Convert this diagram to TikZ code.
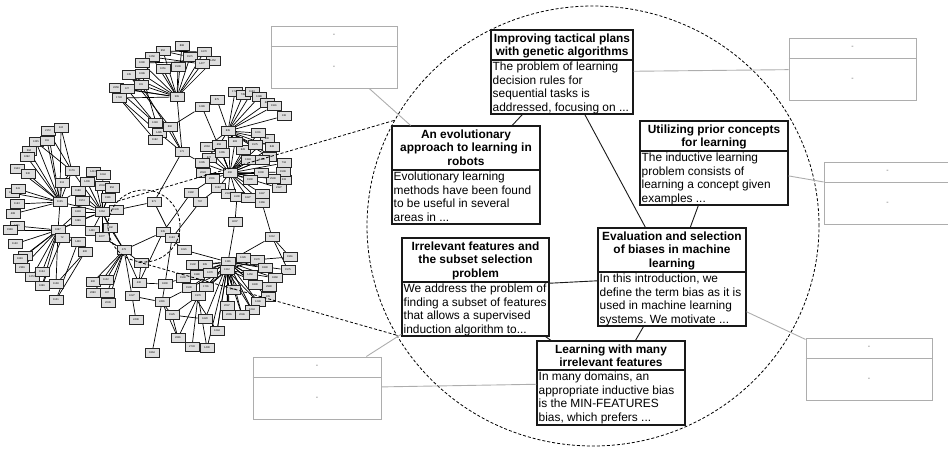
\documentclass[tikz,border=0pt]{standalone}
\usepackage{fontspec}
\setmainfont{Liberation Sans}
\frenchspacing
\usetikzlibrary{shapes.geometric,backgrounds}
\tikzset{
  gn/.style={draw=black!85, fill=black!13, line width=0.9pt, minimum width=14pt, minimum height=8.5pt, inner sep=0pt, font=\fontsize{2.6}{3}\selectfont},
  ge/.style={line width=0.7pt, black},
  paper/.style={draw=black!90, fill=white, line width=1.1pt, inner sep=0pt},
  ghost/.style={draw=black!32, fill=white, line width=1pt, inner sep=0pt},
  papersep/.style={draw=black!90, line width=1.1pt},
  ghostsep/.style={draw=black!32, line width=1pt},
  tlink/.style={line width=0.9pt, black!90},
  glink/.style={line width=0.9pt, black!32},
  zoomline/.style={dash pattern=on 3pt off 2pt, line width=0.8pt, black},
  ttl/.style={font=\fontsize{11.9}{13.4}\selectfont\bfseries, align=center, inner sep=0pt, anchor=north},
  bdy/.style={font=\fontsize{11.9}{13.4}\selectfont, align=left, inner sep=0pt, anchor=north west},
  mk/.style={font=\fontsize{7}{8}\selectfont, text=black!60, inner sep=0pt}
}
\begin{document}
\begin{tikzpicture}[x=1pt,y=-1pt]
\useasboundingbox (0,0) rectangle (948,450);

% ---------------- graph nodes ----------------
\foreach \n/\x/\y/\l in {
 t0/177/97/565, t1/182/46/868, t2/204/52/1670, t3/213/61/1452, t4/163/51/952, t5/152/57/1250,
 t6/142/63/1090, t7/163/69/1051, t8/178/67/1509, t9/190/57/1571, t10/202/64/1477, t11/129/75/135,
 t12/142/74/1096, t13/141/85/101, t14/116/88/2659, t15/127/89/127, t16/119/98/1743, t17/155/123/1283,
 t18/159/133/1485, t19/155/140/1192, t20/170/127/860, t21/182/152/171, t22/202/107/1289,
 r0/228/131/835, r1/217/100/875, r2/235/92/1722, r3/243/95/735, r4/252/92/1163, r5/259/97/1288,
 r6/267/103/880, r7/274/106/1941, r8/284/116/136, r9/230/173/490, r10/207/147/2063, r11/219/145/658,
 r12/209/158/627, r13/222/153/1265, r14/243/150/828, r15/235/142/683, r16/267/139/800, r17/272/147/848,
 r18/269/157/695, r19/202/163/1095, r20/203/173/2024, r21/212/179/2201, r22/218/188/1152,
 r23/228/194/2341, r24/237/197/4100, r25/248/198/1627, r26/262/194/1647, r27/262/203/1366,
 r28/279/188/2327, r29/284/180/233, r30/283/172/1509, r31/284/163/716, r32/273/179/2500,
 r33/261/173/1000, r34/250/180/1900, r35/255/145/1575, r36/248/160/1343, r37/262/160/1460, r38/258/133/1001,
 m1/154/202/971, m2/163/232/535, m3/172/238/1163, m4/124/250/479, m5/141/263/46, m6/191/193/1992,
 m7/200/202/767, m8/235/222/4007, m9/272/237/1012,
 q0/228/262/1381, q1/184/250/1021, q2/290/257/1961, q3/257/260/1570, q4/288/270/1575, q5/275/278/1860,
 q6/265/268/1840, q7/269/287/2990, q8/268/297/105, q9/258/302/1246, q10/252/310/1244, q11/227/306/2047,
 q12/229/315/2065, q13/242/315/2046, q14/233/290/1300, q15/193/265/1502, q16/205/265/205,
 q17/183/278/1500, q18/197/275/1980, q19/189/288/1530, q20/198/296/1979, q21/206/287/1701,
 q22/210/273/1270, q23/250/275/1450, q24/255/285/1830, q25/243/258/1226, q26/227/270/1312,
 l0/102/212/1264, l1/60/202/1125, l2/58/230/1067, l3/72/171/1176, l4/48/131/2172, l5/61/128/224,
 l6/36/142/1225, l7/47/141/161, l8/29/151/594, l9/27/157/1092, l10/17/169/1543, l11/28/174/530,
 l12/62/183/313, l13/12/193/1034, l14/18/189/341, l15/17/204/1163, l16/13/214/408, l17/17/226/1221,
 l18/10/230/1558, l19/15/244/1140, l20/25/256/1249, l21/20/259/1049, l22/22/268/2306, l23/32/277/1272,
 l24/42/272/1134, l25/42/286/1066, l26/56/284/1108, l27/56/300/1101, l28/62/238/72, l29/78/242/1440,
 l30/85/252/600, l31/78/212/1618, l32/78/221/1696, l33/78/191/1188, l34/82/201/1574, l35/93/172/1413,
 l36/87/182/1409, l37/103/175/1044, l38/102/186/2034, l39/112/188/952, l40/108/198/1981,
 l41/116/210/1939, l42/110/228/1332, l43/92/231/1440, l44/102/237/1077,
 b1/93/282/600, b2/106/280/1102, b3/93/293/2060, b4/107/293/187, b5/108/303/2039, b6/139/283/430,
 b7/132/296/1027, b8/165/284/1800, b9/162/302/2491, b10/172/315/1525, b11/136/320/2438,
 b12/205/319/1620, b13/217/331/1244, b14/178/338/2681, b15/192/347/2733, b16/207/348/1430, b17/152/353/1864}
 {\node[gn] (\n) at (\x,\y) {\l};}

% ---------------- graph edges ----------------
\begin{scope}[on background layer]
\foreach \a/\b in {
 t0/t1, t0/t2, t0/t3, t0/t4, t0/t5, t0/t6, t0/t7, t0/t8, t0/t9, t0/t10, t0/t11, t0/t12, t0/t13, t0/t14,
 t0/t15, t0/t16, t1/t9, t4/t9, t5/t10, t6/t3, t7/t2, t4/t2, t14/t17, t16/t18, t16/t19, t15/t17, t11/t20,
 t13/t21, t12/t18, t21/t20, t21/t18, t21/t0, t20/t22, t22/r9, t21/m1, t21/r19,
 r0/r1, r0/r2, r0/r3, r0/r4, r0/r5, r0/r6, r0/r7, r0/r8, r0/r9, r0/r14, r0/r15, r0/r16, r0/r17, r0/r35,
 r0/r38, r0/r11, r0/r10, r0/r18, r0/r31,
 r9/r10, r9/r11, r9/r12, r9/r13, r9/r14, r9/r15, r9/r16, r9/r17, r9/r18, r9/r19, r9/r20, r9/r21, r9/r22,
 r9/r23, r9/r24, r9/r25, r9/r26, r9/r27, r9/r28, r9/r29, r9/r30, r9/r31, r9/r32, r9/r33, r9/r34, r9/r35,
 r9/r36, r9/r37, r9/r38,
 m1/l41, m1/m3, m2/m4, m2/m6, m2/m3, m2/q1, m3/m7, m6/r21, m7/r22, m8/r24, m8/q0, m9/r27, m9/q0,
 m9/q2, m9/q4, m5/m4, m5/b6,
 q0/q1, q0/q2, q0/q3, q0/q4, q0/q5, q0/q6, q0/q7, q0/q8, q0/q9, q0/q10, q0/q11, q0/q12, q0/q13, q0/q14,
 q0/q15, q0/q16, q0/q17, q0/q18, q0/q19, q0/q20, q0/q21, q0/q22, q0/q23, q0/q24, q0/q25,
 q26/q11, q26/q12, q26/q13, q26/q14, q26/q19, q26/q20, q26/q21, q26/q9, q26/q10, q26/q3, q26/q5, q26/q7,
 l0/l31, l0/l32, l0/l33, l0/l34, l0/l35, l0/l36, l0/l37, l0/l38, l0/l39, l0/l40, l0/l41, l0/l42, l0/l43,
 l0/l44, l0/l1, l0/l2, l0/l3, l0/m4, l1/l3, l1/l6, l1/l7, l1/l8, l1/l9, l1/l11, l1/l12, l1/l13, l1/l14,
 l1/l15, l1/l16, l1/l33, l1/l2, l1/l4, l1/l5, l1/l10,
 l2/l17, l2/l18, l2/l19, l2/l20, l2/l21, l2/l22, l2/l23, l2/l24, l2/l26, l2/l28, l2/l29, l2/l30, l2/l32,
 l2/l31, l3/l4, l3/l5, l3/l12, l3/l6, l27/l30, l27/l29, l26/l30, l25/l2, l25/l28,
 m4/b1, m4/b2, m4/b3, m4/b4, m4/b5, m4/b6, m4/b7, m4/l42, m4/l43, m4/l44, b6/b8, b7/b11, b7/b9,
 b9/b17, b9/b14, b9/b10, b9/b8, b9/q19, b10/q20, b10/b14, b10/b12, b8/q17, b8/m3, b14/q20, b15/q20,
 b16/q20, b16/q0, b12/q0, b13/q0, b13/q19, b13/q26, b6/m2}
 {\draw[ge] (\a) -- (\b);}
\end{scope}

% ---------------- zoom lens ----------------
\node[circle, draw, zoomline, minimum size=72pt, inner sep=0pt] (lens) at (144,226) {};
\node[ellipse, draw, zoomline, minimum width=452pt, minimum height=440pt, inner sep=0pt] (view) at (593,226) {};
\draw[zoomline] (lens.137) -- (view.152.7);
\draw[zoomline] (lens.261) -- (view.209.7);

% ---------------- detail boxes ----------------
\node[paper, minimum width=142pt, minimum height=84pt] (p1) at (562,72) {};
\node[paper, minimum width=148pt, minimum height=98pt] (p2) at (466,175) {};
\node[paper, minimum width=148pt, minimum height=84pt] (p3) at (714,163) {};
\node[paper, minimum width=148pt, minimum height=98pt] (p4) at (672,277) {};
\node[paper, minimum width=147pt, minimum height=98pt] (p5) at (475.5,287) {};
\node[paper, minimum width=148pt, minimum height=84pt] (p6) at (611,383) {};

\draw[papersep] (p1.west |- 0,60) -- (p1.east |- 0,60);
\draw[papersep] (p2.west |- 0,170) -- (p2.east |- 0,170);
\draw[papersep] (p3.west |- 0,151) -- (p3.east |- 0,151);
\draw[papersep] (p4.west |- 0,272) -- (p4.east |- 0,272);
\draw[papersep] (p5.west |- 0,282) -- (p5.east |- 0,282);
\draw[papersep] (p6.west |- 0,370) -- (p6.east |- 0,370);

\node[ttl] (p1t) at (562,33.5) {Improving tactical plans\\with genetic algorithms};
\node[bdy] (p1b) at (492.5,62) {The problem of learning\\decision rules for\\sequential tasks is\\addressed, focusing on ...};
\node[ttl] (p2t) at (466,129.5) {An evolutionary\\approach to learning in\\robots};
\node[bdy] (p2b) at (393.5,172) {Evolutionary learning\\methods have been found\\to be useful in several\\areas in ...};
\node[ttl] (p3t) at (714,124.5) {Utilizing prior concepts\\for learning};
\node[bdy] (p3b) at (641.5,153) {The inductive learning\\problem consists of\\learning a concept given\\examples ...};
\node[ttl] (p4t) at (672,231.5) {Evaluation and selection\\of biases in machine\\learning};
\node[bdy] (p4b) at (599.5,274) {In this introduction, we\\define the term bias as it is\\used in machine learning\\systems. We motivate ...};
\node[ttl] (p5t) at (475.5,241.5) {Irrelevant features and\\the subset selection\\problem};
\node[bdy] (p5b) at (403.5,284) {We address the problem of\\finding a subset of features\\that allows a supervised\\induction algorithm to...};
\node[ttl] (p6t) at (611,344.5) {Learning with many\\irrelevant features};
\node[bdy] (p6b) at (538.5,372) {In many domains, an\\appropriate inductive bias\\is the MIN-FEATURES\\bias, which prefers ...};

% ---------------- empty grey boxes ----------------
\node[ghost, minimum width=126pt, minimum height=62pt] (gA) at (334,57) {};
\node[ghost, minimum width=127pt, minimum height=62pt] (gB) at (852.5,69) {};
\node[ghost, minimum width=127pt, minimum height=62pt] (gC) at (887.5,193) {};
\node[ghost, minimum width=126pt, minimum height=62pt] (gD) at (869,369) {};
\node[ghost, minimum width=128pt, minimum height=62pt] (gE) at (317,388) {};

\draw[ghostsep] (gA.west |- 0,46) -- (gA.east |- 0,46);
\draw[ghostsep] (gB.west |- 0,58) -- (gB.east |- 0,58);
\draw[ghostsep] (gC.west |- 0,182) -- (gC.east |- 0,182);
\draw[ghostsep] (gD.west |- 0,358) -- (gD.east |- 0,358);
\draw[ghostsep] (gE.west |- 0,377) -- (gE.east |- 0,377);

\node[mk] (gA1) at (334,35) {-};   \node[mk] (gA2) at (334,67) {-};
\node[mk] (gB1) at (852.5,47) {-}; \node[mk] (gB2) at (852.5,79) {-};
\node[mk] (gC1) at (887.5,171) {-}; \node[mk] (gC2) at (887.5,203) {-};
\node[mk] (gD1) at (869,347) {-};  \node[mk] (gD2) at (869,379) {-};
\node[mk] (gE1) at (317,366) {-};  \node[mk] (gE2) at (317,398) {-};

% ---------------- connectors ----------------
\draw[glink] (p2) -- (gA);
\draw[glink] (p1) -- (gB);
\draw[glink] (p3) -- (gC);
\draw[glink] (p4) -- (gD);
\draw[glink] (p5) -- (gE);
\draw[glink] (p6) -- (gE);

\draw[tlink] (p1) -- (p2);
\draw[tlink] (p1) -- (p4);
\draw[tlink] (p3) -- (p4);
\draw[tlink] (p5) -- (p4);
\draw[tlink] (p5) -- (p6);
\draw[tlink] (p4) -- (p6);
\end{tikzpicture}
\end{document}
